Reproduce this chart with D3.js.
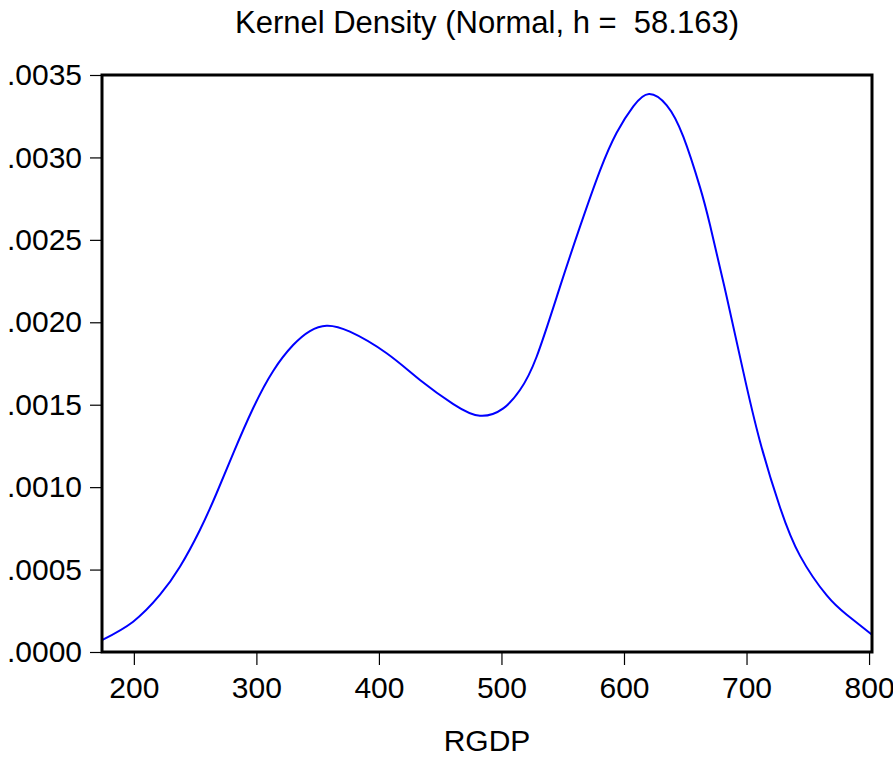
<!DOCTYPE html>
<html>
<head>
<meta charset="utf-8">
<script src="https://cdn.jsdelivr.net/npm/d3@7"></script>
<style>
  body { margin: 0; background: #fff; }
  text { font-family: "Liberation Sans", Arial, sans-serif; fill: #000; }
</style>
</head>
<body>
<svg id="chart" width="893" height="761"></svg>
<script>
// values
var rgdp = [174.0, 199.4, 221.2, 237.6, 253.9, 267.5, 281.1, 297.4, 313.7, 330.0,
  343.7, 357.3, 376.3, 406.3, 433.5, 460.7, 482.4, 501.5, 515.1, 528.7,
  547.8, 564.1, 580.4, 594.0, 607.6, 620.4, 634.9, 648.4,
  662.0, 670.2, 683.8, 697.4, 711.0, 727.3, 743.7, 765.5, 781.8, 802.4];
var density = [0.000072, 0.000184, 0.000346, 0.000517, 0.000740, 0.000963, 0.001205, 0.001480, 0.001705, 0.001862,
  0.001947, 0.001979, 0.001943, 0.001812, 0.001650, 0.001504, 0.001433, 0.001478, 0.001589, 0.001791,
  0.002216, 0.002580, 0.002920, 0.003150, 0.003310, 0.003385, 0.003316, 0.003126,
  0.002820, 0.002590, 0.002155, 0.001699, 0.001277, 0.000878, 0.000583, 0.000343, 0.000226, 0.000105];
var xTicks = [200, 300, 400, 500, 600, 700, 800];
var yTicks = [0, 0.0005, 0.0010, 0.0015, 0.0020, 0.0025, 0.0030, 0.0035];

var svg = d3.select("#chart"),
  margin = { top: 75, right: 21, bottom: 109, left: 102 },
  width = svg.attr("width") - margin.left - margin.right,
  height = svg.attr("height") - margin.top - margin.bottom,
  g = svg.append("g").attr("transform", "translate(" + margin.left + "," + margin.top + ")");

var x = d3.scaleLinear().domain([174.0, 802.4]).range([0, width]),
  y = d3.scaleLinear().domain([0, 0.0035]).range([height, 0]);

var pts = rgdp.map(function(d, i) { return { x: d, y: density[i] }; });

var line = d3.line()
  .x(function(d) { return x(d.x); })
  .y(function(d) { return y(d.y); })
  .curve(d3.curveNatural);

svg.append("defs").append("clipPath").attr("id", "clip")
  .append("rect").attr("width", width).attr("height", height);

g.append("path")
  .datum(pts)
  .attr("clip-path", "url(#clip)")
  .attr("d", line)
  .attr("fill", "none")
  .attr("stroke", "#0000ff")
  .attr("stroke-width", 2);

var xAxis = g.append("g")
  .attr("transform", "translate(0," + height + ")")
  .call(d3.axisBottom(x).tickValues(xTicks).tickSize(13).tickPadding(12).tickSizeOuter(0));

var yAxis = g.append("g")
  .call(d3.axisLeft(y).tickValues(yTicks).tickSize(12).tickPadding(8).tickSizeOuter(0)
    .tickFormat(function(d) { return d3.format(".4f")(d).replace(/^0/, ""); }));

[xAxis, yAxis].forEach(function(a) {
  a.select(".domain").remove();
  a.selectAll("line").attr("stroke", "#000").attr("stroke-width", 1.2);
  a.selectAll("text").style("font-size", "30px").attr("font-family", null);
});

// frame
g.append("rect")
  .attr("width", width)
  .attr("height", height)
  .attr("fill", "none")
  .attr("stroke", "#000")
  .attr("stroke-width", 3);

svg.append("text")
  .attr("x", margin.left + width / 2)
  .attr("y", 33)
  .attr("text-anchor", "middle")
  .style("font-size", "31px")
  .style("white-space", "pre")
  .text("Kernel Density (Normal, h =  58.163)");

svg.append("text")
  .attr("x", margin.left + width / 2)
  .attr("y", 751)
  .attr("text-anchor", "middle")
  .style("font-size", "30px")
  .text("RGDP");
</script>
</body>
</html>
